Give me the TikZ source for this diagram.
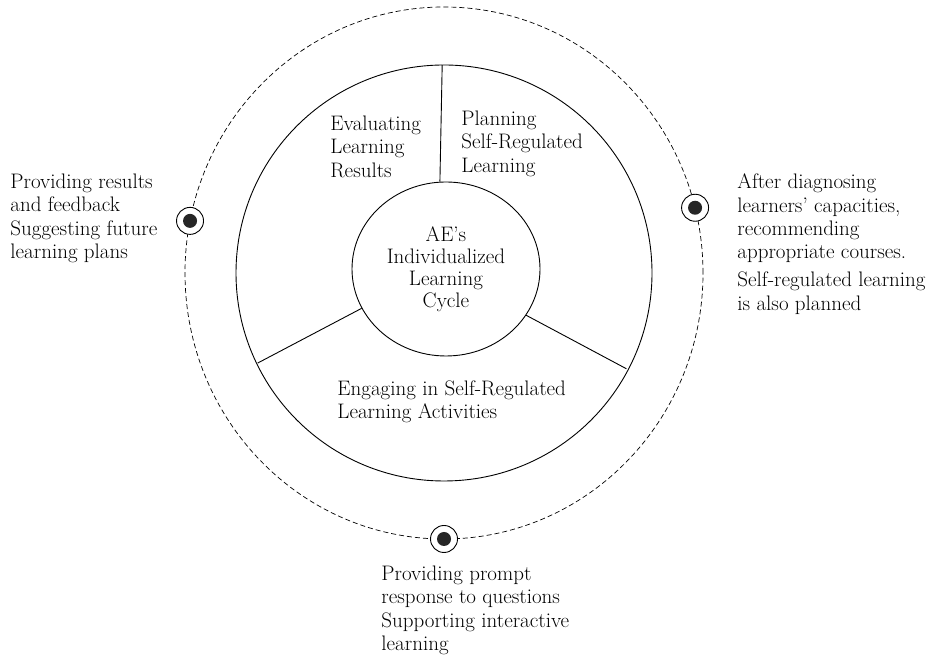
\documentclass[tikz,border=0pt]{standalone}
\usepackage{tikz}
\usetikzlibrary{shapes.geometric}
\begin{document}
\begin{tikzpicture}[x=1pt,y=1pt,line width=0.9pt,
  notiz/.style={font=\fontsize{21}{23.3}\selectfont,align=left,inner sep=0pt,anchor=north west,text=black},
  marke/.style={circle,draw,fill=white,minimum size=27pt,inner sep=0pt},
  kern/.style={ellipse,draw,minimum width=188pt,minimum height=174pt,inner sep=0pt,align=center,text=black,font=\fontsize{21}{22}\selectfont}]
  \useasboundingbox (0,0) rectangle (942,660);
  \coordinate (o) at (444,387);
  \draw[dash pattern=on 5pt off 3pt,line width=0.7pt] (o) ellipse [x radius=259,y radius=266];
  \draw (o) circle (208);
  \node[kern] (hub) at (446,391) {AE’s\\Individualized\\Learning\\Cycle};
  \path (o) ++(90.5:208) coordinate (r1)
    (o) ++(205.8:207) coordinate (r2)
    (o) ++(-27.7:206) coordinate (r3);
  \draw (hub.94) -- (r1) (hub.205) -- (r2) (hub.330) -- (r3);
  % Marken auf dem Aussenkreis
  \path (o) ++(168.7:259 and 266) node[marke] (m1) {}
    (o) ++(14.2:259 and 266) node[marke] (m2) {}
    (o) ++(270:259 and 266) node[marke] (m3) {};
  \foreach \m in {m1,m2,m3} \fill[black!85] (\m) circle (7);
  % Segmente
  \node[notiz] (eval) at (330,544.5) {Evaluating\\Learning\\Results};
  \node[notiz] (plan) at (461,549.5) {Planning\\Self-Regulated\\Learning};
  \node[notiz] (eng) at (337,279.5) {Engaging in Self-Regulated\\Learning Activities};
  % Beschriftungen aussen
  \node[notiz] (links) at (10,486.5) {Providing results\\and feedback\\Suggesting future\\learning plans};
  \node[notiz] (rechts) at (737,486.5) {After diagnosing\\learners’ capacities,\\recommending\\appropriate courses.\\[5pt]Self-regulated learning\\is also planned};
  \node[notiz] (unten) at (381,94.5) {Providing prompt\\response to questions\\Supporting interactive\\learning};
\end{tikzpicture}
\end{document}
